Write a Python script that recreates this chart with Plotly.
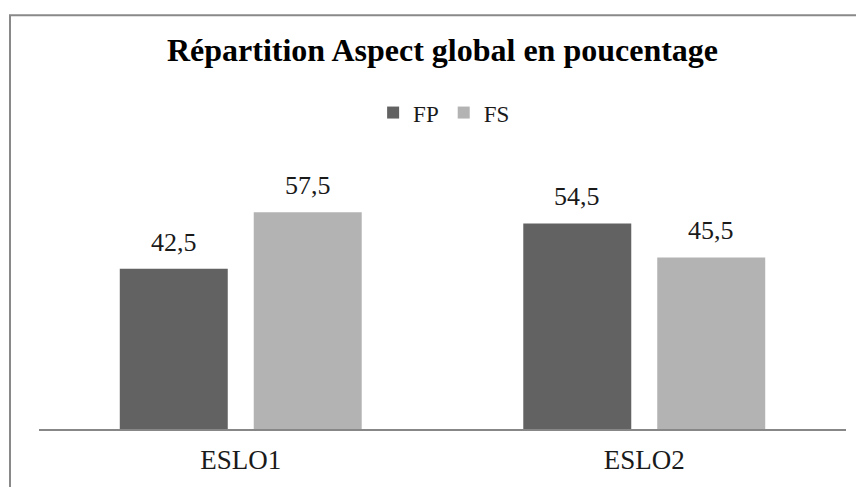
import plotly.graph_objects as go

categories = ["ESLO1", "ESLO2"]
fp_values = [42.5, 54.5]
fs_values = [57.5, 45.5]
series_names = ["FP", "FS"]
title_text = "Répartition Aspect global en poucentage"

colors = ["#626262", "#b3b3b3"]
FONT = "Liberation Serif, Times New Roman, serif"

# figure is placed by the page at (8, 8); plot area chosen accordingly
L, R, T, B = 31, 18, 157, 55
W, H = 856, 479
PW = W - L - R
PH = H - T - B

fig = go.Figure()
for name, vals, col in zip(series_names, [fp_values, fs_values], colors):
    fig.add_trace(go.Bar(name=name, x=categories, y=vals, marker=dict(color=col, line=dict(width=0))))

# data labels
shifts = [-67, 67]
for vals, sh in zip([fp_values, fs_values], shifts):
    for c, v in zip(categories, vals):
        fig.add_annotation(x=c, y=v, text=str(v).replace(".", ","), xshift=sh, yshift=10,
                           yanchor="bottom", showarrow=False,
                           font=dict(family=FONT, size=26, color="#1a1a1a"))

fig.update_layout(
    width=W, height=H,
    margin=dict(l=L, r=R, t=T, b=B),
    paper_bgcolor="white", plot_bgcolor="white",
    barmode="group", bargap=0.336, bargroupgap=0.194,
    title=dict(text="<b>" + title_text + "</b>", x=0.5, xref="paper", xanchor="center",
               y=1 - 42 / H, yref="container", yanchor="middle",
               font=dict(family=FONT, size=32, color="black")),
    legend=dict(orientation="h", x=0.502, xanchor="center", y=(424 - 104) / PH, yanchor="middle",
                font=dict(family=FONT, size=23, color="#1a1a1a"),
                itemwidth=30, tracegroupgap=0, bgcolor="rgba(0,0,0,0)"),
    showlegend=True,
    xaxis=dict(showline=True, linecolor="#878787", linewidth=2, ticks="", showgrid=False,
               tickfont=dict(family=FONT, size=27, color="#1a1a1a"), ticklabelstandoff=6),
    yaxis=dict(range=[0, 70], visible=False, showgrid=False),
    shapes=[dict(type="rect", xref="paper", yref="paper",
                 x0=(2 - L) / PW, x1=(W + 10 - L) / PW,
                 y0=(424 - (H + 10)) / PH, y1=(424 - 5.5) / PH,
                 line=dict(color="#898989", width=2), fillcolor="rgba(0,0,0,0)", layer="below")],
)

fig.write_html("out.html")
